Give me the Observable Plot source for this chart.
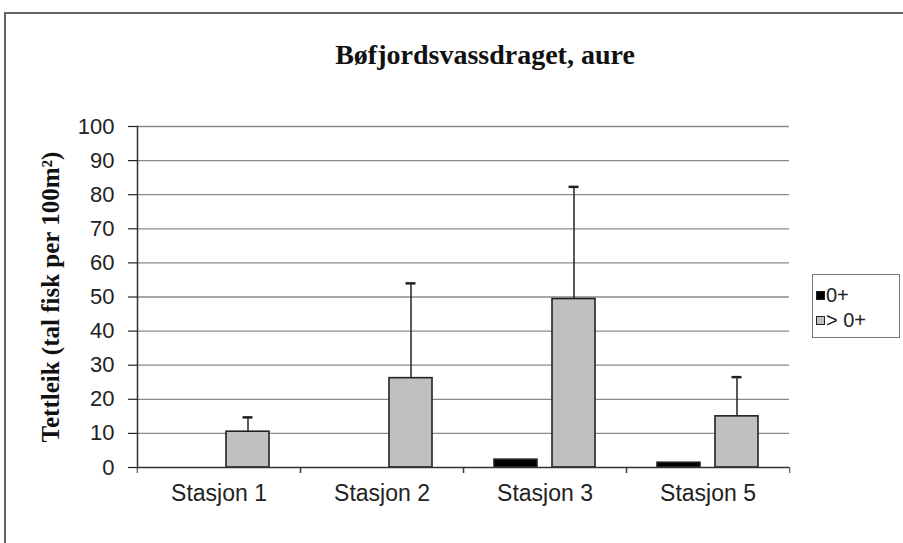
<!DOCTYPE html>
<html>
<head>
<meta charset="utf-8">
<script src="https://cdn.jsdelivr.net/npm/d3@7"></script>
<script src="https://cdn.jsdelivr.net/npm/@observablehq/plot@0.6"></script>
<style>
  html, body { margin: 0; padding: 0; background: #fff; overflow: hidden; }
  body { width: 903px; height: 543px; position: relative; }
  .edge { position: absolute; background: #666; }
  #title { position: relative; height: 80px; box-sizing: border-box; padding-top: 41px;
           padding-left: 67px; text-align: center; font: bold 28px "Liberation Serif", serif;
           line-height: 28px; color: #111; }
  #chart { position: relative; width: 903px; height: 463px; }
  #chart svg { display: block; }
  #legend { position: absolute; left: 812px; top: 274px; width: 88px; height: 64px;
            border: 1px solid #777; box-sizing: border-box; font: 20px "Liberation Sans", Arial, sans-serif;
            color: #222; padding: 8px 0 0 3px; }
  .item { display: flex; align-items: center; height: 25px; }
  .sw { width: 9px; height: 9px; box-sizing: border-box; margin-right: 1px; }
</style>
</head>
<body>
<div class="edge" style="left:4px; top:12px; width:899px; height:2px;"></div>
<div class="edge" style="left:4px; top:12px; width:2px; height:531px;"></div>
<div id="title">Bøfjordsvassdraget, aure</div>
<div id="chart"></div>
<div id="legend"></div>
<script>
const stations = ["Stasjon 1", "Stasjon 2", "Stasjon 3", "Stasjon 5"];
const series = ["0+", "> 0+"];
const seriesColors = ["#000000", "#c0c0c0"];
const young = [0, 0, 2.3, 1.4];        // 0+
const older = [10.5, 26.2, 49.4, 15.0]; // > 0+
const olderUpper = [14.7, 54.0, 82.3, 26.5]; // upper end of error bar for > 0+
const yTicks = [0, 10, 20, 30, 40, 50, 60, 70, 80, 90, 100];
const yLabel = "Tettleik (tal fisk per 100m²)";

const rows = [];
stations.forEach((s, i) => {
  rows.push({station: s, series: series[0], value: young[i]});
  rows.push({station: s, series: series[1], value: older[i], upper: olderUpper[i]});
});
const errRows = rows.filter(d => d.upper != null);

const band = (903 - 136 - 113) / stations.length;

const chart = Plot.plot({
  width: 903,
  height: 463,
  marginTop: 46,
  marginBottom: 76,
  marginLeft: 136,
  marginRight: 113,
  style: {fontFamily: "Liberation Sans, Arial, sans-serif", background: "transparent"},
  fx: {domain: stations, paddingInner: 0, paddingOuter: 0},
  x: {domain: series, paddingInner: 0.254, paddingOuter: 0.513, axis: null},
  y: {domain: [0, 100]},
  color: {domain: series, range: seriesColors},
  marks: [
    Plot.ruleY(yTicks.filter(t => t > 0), {stroke: "#8a8a8a", strokeWidth: 1.3}),
    Plot.barY(rows, {fx: "station", x: "series", y: "value", fill: "series", stroke: "#222", strokeWidth: 1.6}),
    Plot.ruleX(errRows, {fx: "station", x: "series", y1: "value", y2: "upper", stroke: "#222", strokeWidth: 1.5}),
    Plot.tickY(errRows, {fx: "station", x: "series", y: "upper", insetLeft: 16.5, insetRight: 16.5, stroke: "#222", strokeWidth: 2.5}),
    Plot.ruleY([0], {stroke: "#333", strokeWidth: 1.5}),
    Plot.frame({anchor: "left", facetAnchor: "left", stroke: "#333", strokeWidth: 1.5}),
    Plot.axisY(yTicks, {tickSize: 9, tickPadding: 14, fontSize: 22, color: "#222", label: null, strokeWidth: 1.2}),
    Plot.text([yLabel], {frameAnchor: "left", rotate: -90, dx: -87, textAnchor: "middle", facetAnchor: "left",
      fontFamily: "Liberation Serif, serif", fontWeight: "bold", fontSize: 25, fill: "#111"}),
    Plot.axisFx({anchor: "bottom", tickSize: 0, tickPadding: 17, fontSize: 23, color: "#222", label: null}),
    Plot.axisFx({anchor: "bottom", tickSize: 6, text: null, dx: band / 2, color: "#333", label: null}),
    Plot.axisFx(stations.slice(0, 1), {anchor: "bottom", tickSize: 6, text: null, dx: -band / 2, color: "#333", label: null})
  ]
});
document.getElementById("chart").appendChild(chart);

const legend = document.getElementById("legend");
series.forEach((s, i) => {
  const item = document.createElement("div");
  item.className = "item";
  const sw = document.createElement("div");
  sw.className = "sw";
  sw.style.background = seriesColors[i];
  sw.style.border = "1px solid #222";
  item.appendChild(sw);
  const t = document.createElement("span");
  t.textContent = s;
  item.appendChild(t);
  legend.appendChild(item);
});
</script>
</body>
</html>
